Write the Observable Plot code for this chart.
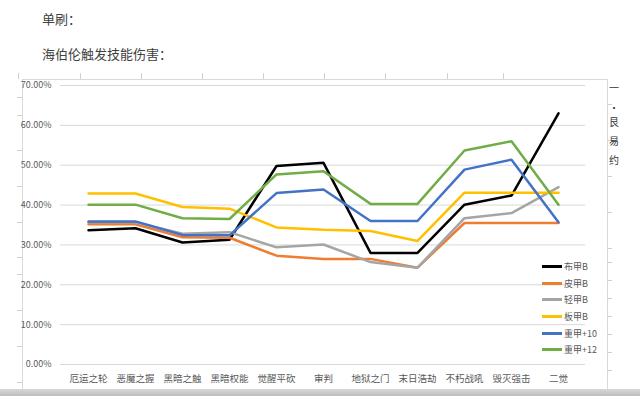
<!DOCTYPE html>
<html>
<head>
<meta charset="utf-8">
<script src="https://cdn.jsdelivr.net/npm/d3@7"></script>
<script src="https://cdn.jsdelivr.net/npm/@observablehq/plot@0.6"></script>
<style>
  html, body { margin: 0; padding: 0; background: #fff; }
  body { width: 640px; height: 396px; position: relative; overflow: hidden;
         font-family: "Noto Sans CJK SC", "Noto Sans", sans-serif; }
  .title { position: absolute; left: 42px; font-size: 13px; color: #404040; line-height: 1; }
  .frame { position: absolute; left: 22px; top: 79px; width: 584px; height: 311px;
           border-top: 1px solid #d9d9d9; border-left: 1px solid #d9d9d9; border-right: 1px solid #d9d9d9; }
  .tick-top { position: absolute; top: 73px; width: 1px; height: 6px; background: #d0d0d0; }
  .tick-left { position: absolute; left: 17px; width: 5px; height: 1px; background: #d0d0d0; }
  .tick-right { position: absolute; left: 607px; width: 5px; height: 1px; background: #d0d0d0; }
  .side { position: absolute; left: 609px; font-size: 10px; color: #333; line-height: 1; }
  .bottomband { position: absolute; left: 0; top: 389px; width: 640px; height: 7px;
                background: linear-gradient(#d8d8d8, #bdbdbd); }
  #chart { position: absolute; left: 0; top: 73px; }
  #legend { position: absolute; left: 542px; top: 258px; font-size: 9px; color: #595959; }
  #legend .item { height: 16.7px; display: flex; align-items: center; }
  #legend .sw { width: 20px; height: 3px; margin-right: 2px; }
</style>
</head>
<body>
<div class="title" style="top:12px">单刷：</div>
<div class="title" style="top:47px">海伯伦触发技能伤害：</div>
<div class="frame"></div>
<div class="bottomband"></div>
<div id="chart"></div>
<div id="legend"></div>
<script>
const categories = ["厄运之轮", "恶魔之握", "黑暗之触", "黑暗权能", "觉醒平砍", "审判", "地狱之门", "末日浩劫", "不朽战吼", "毁灭强击", "二觉"];
const seriesNames = ["布甲B", "皮甲B", "轻甲B", "板甲B", "重甲+10", "重甲+12"];
const seriesColors = ["#000000", "#ED7D31", "#A5A5A5", "#FFC000", "#4472C4", "#70AD47"];

const clothB   = [0.337, 0.342, 0.306, 0.313, 0.498, 0.506, 0.280, 0.280, 0.401, 0.424, 0.630];
const leatherB = [0.352, 0.352, 0.319, 0.318, 0.273, 0.265, 0.265, 0.243, 0.355, 0.355, 0.355];
const lightB   = [0.357, 0.357, 0.328, 0.332, 0.294, 0.301, 0.257, 0.243, 0.367, 0.380, 0.445];
const plateB   = [0.429, 0.429, 0.395, 0.391, 0.344, 0.338, 0.335, 0.310, 0.431, 0.431, 0.431];
const heavy10  = [0.359, 0.359, 0.325, 0.324, 0.430, 0.439, 0.360, 0.360, 0.489, 0.514, 0.357];
const heavy12  = [0.401, 0.401, 0.367, 0.365, 0.477, 0.485, 0.403, 0.403, 0.537, 0.560, 0.401];

const yTicks = [0, 0.1, 0.2, 0.3, 0.4, 0.5, 0.6, 0.7];

const seriesValues = [clothB, leatherB, lightB, plateB, heavy10, heavy12];
const data = [];
seriesNames.forEach((s, i) => {
  categories.forEach((c, j) => data.push({series: s, cat: c, v: seriesValues[i][j]}));
});

const chart = Plot.plot({
  width: 640,
  height: 323,
  marginTop: 12,
  marginBottom: 32,
  marginLeft: 60,
  marginRight: 55,
  style: {fontFamily: '"Noto Sans CJK SC", "Noto Sans", sans-serif', color: "#595959", background: "transparent", overflow: "visible"},
  x: {type: "point", domain: categories, padding: 0.5, label: null},
  y: {domain: [0, 0.7], label: null},
  color: {domain: seriesNames, range: seriesColors},
  marks: [
    Plot.gridY(yTicks, {stroke: "#d9d9d9", strokeOpacity: 1, strokeWidth: 1}),
    Plot.axisY(yTicks, {tickSize: 0, tickPadding: 9, fontSize: 9, fill: "#595959", tickFormat: d => (d * 100).toFixed(2) + "%", label: null}),
    Plot.axisX({tickSize: 0, tickPadding: 11, fontSize: 9.5, fill: "#595959", label: null}),
    Plot.line(data, {x: "cat", y: "v", z: "series", stroke: "series", strokeWidth: 2.5, strokeLinejoin: "miter"})
  ]
});
document.getElementById("chart").appendChild(chart);

const legend = document.getElementById("legend");
seriesNames.forEach((s, i) => {
  const item = document.createElement("div");
  item.className = "item";
  const sw = document.createElement("span");
  sw.className = "sw";
  sw.style.background = seriesColors[i];
  const t = document.createElement("span");
  t.textContent = s;
  item.appendChild(sw);
  item.appendChild(t);
  legend.appendChild(item);
});

// sheet frame ticks
[18, 80, 141, 202, 263, 324, 385, 447, 503].forEach(x => {
  const d = document.createElement("div"); d.className = "tick-top"; d.style.left = x + "px"; document.body.appendChild(d);
});
[97, 115, 150, 186, 222, 257, 274, 310, 346, 382].forEach(y => {
  const d = document.createElement("div"); d.className = "tick-left"; d.style.top = y + "px"; document.body.appendChild(d);
});
[104, 140, 176, 212, 248, 262, 280, 298, 316, 334, 352, 370].forEach(y => {
  const d = document.createElement("div"); d.className = "tick-right"; d.style.top = y + "px"; document.body.appendChild(d);
});
[["一", 83], ["·", 103], ["艮", 117], ["易", 136], ["约", 155]].forEach(([t, y]) => {
  const d = document.createElement("div"); d.className = "side"; d.textContent = t; d.style.top = y + "px"; document.body.appendChild(d);
});
</script>
</body>
</html>
